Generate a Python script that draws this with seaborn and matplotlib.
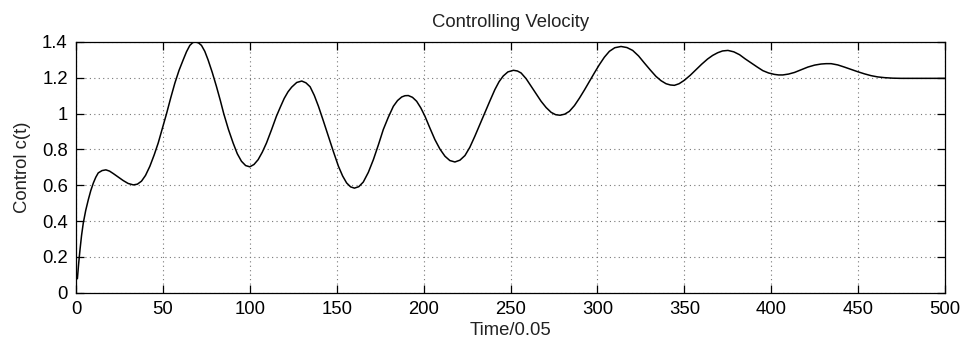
import matplotlib
matplotlib.use("Agg")
import matplotlib.pyplot as plt
import seaborn as sns
import pandas as pd

# Data
time_steps = [0.8, 1.5, 2.3, 3.2, 4.2, 5.6, 7.1, 8.5, 10, 11.4, 12.8, 15, 17.2, 19.3, 21.5,
              24.3, 27.2, 30, 33, 35.3, 37.7, 40, 42.5, 45, 47.3, 49.7, 52.1, 54.5, 56.9,
              59.3, 61.7, 63.6, 65.5, 67.2, 68.8, 70.5, 72.2, 74.1, 76, 78.4, 80.8, 83, 85,
              87.7, 90.4, 92.8, 95.2, 97.6, 100, 102.4, 104.8, 107.2, 109.6, 112.5, 115.3,
              117.5, 119.8, 122, 124.1, 127, 129.9, 132.3, 134.7, 137.1, 139.5, 142.3, 145.2,
              148.1, 151, 153.4, 155.7, 158, 160.2, 162.7, 165.3, 168.2, 171.1, 174, 176.8,
              179.7, 182.6, 185, 187.4, 189.3, 191.2, 193.6, 196, 198.4, 200.8, 203.6, 206.5,
              209.4, 212.3, 215.1, 218, 220.9, 223.8, 226.6, 229.5, 232.4, 235.2, 238.1, 241,
              243.4, 245.8, 248.5, 251.7, 254, 256.1, 259, 261.9, 264.8, 267.6, 270.5, 273.4,
              276, 278.5, 281.2, 283.9, 286.8, 289.7, 292.6, 295.4, 298.3, 301.1, 304, 306.9,
              310, 313.6, 317, 320.3, 323.7, 327, 330.4, 333.7, 336.6, 339.5, 342, 344.3, 347,
              350, 353.4, 356.7, 360, 363.4, 366.3, 369.2, 372, 375.1, 378.5, 381.8, 385,
              388.5, 392, 395.2, 398.5, 401.9, 404.3, 406.7, 410, 413.4, 417.3, 421.1, 425,
              428.7, 431.6, 434.5, 438.3, 442.1, 446, 449.8, 453.7, 457.5, 461.3, 465.1, 470,
              474.7, 486.2, 500]
control = [0.078, 0.16, 0.24, 0.32, 0.39, 0.46, 0.52, 0.57, 0.613, 0.645, 0.669, 0.682, 0.686,
           0.679, 0.665, 0.646, 0.626, 0.610, 0.602, 0.606, 0.623, 0.655, 0.706, 0.770, 0.836,
           0.918, 1.0, 1.088, 1.171, 1.242, 1.301, 1.346, 1.381, 1.397, 1.40, 1.395, 1.381,
           1.348, 1.30, 1.230, 1.152, 1.075, 1.0, 0.912, 0.836, 0.776, 0.734, 0.710, 0.703,
           0.716, 0.743, 0.785, 0.836, 0.910, 0.985, 1.035, 1.085, 1.122, 1.148, 1.174, 1.182,
           1.172, 1.150, 1.102, 1.041, 0.960, 0.874, 0.788, 0.706, 0.652, 0.613, 0.591, 0.584,
           0.592, 0.618, 0.672, 0.743, 0.826, 0.911, 0.980, 1.041, 1.073, 1.093, 1.100, 1.101,
           1.091, 1.069, 1.032, 0.985, 0.920, 0.855, 0.802, 0.762, 0.738, 0.730, 0.740, 0.766,
           0.812, 0.874, 0.940, 1.004, 1.070, 1.134, 1.178, 1.210, 1.233, 1.242, 1.238, 1.227,
           1.195, 1.152, 1.110, 1.069, 1.034, 1.007, 0.994, 0.991, 0.997, 1.013, 1.045, 1.087,
           1.133, 1.180, 1.228, 1.273, 1.315, 1.348, 1.368, 1.375, 1.369, 1.353, 1.322, 1.283,
           1.244, 1.208, 1.184, 1.167, 1.160, 1.158, 1.167, 1.186, 1.214, 1.245, 1.276, 1.305,
           1.325, 1.340, 1.350, 1.353, 1.345, 1.329, 1.306, 1.283, 1.260, 1.240, 1.227, 1.219,
           1.216, 1.216, 1.221, 1.230, 1.245, 1.260, 1.271, 1.277, 1.279, 1.279, 1.272, 1.260,
           1.247, 1.234, 1.222, 1.212, 1.205, 1.201, 1.198, 1.197, 1.197, 1.197]

x_ticks = [0, 50, 100, 150, 200, 250, 300, 350, 400, 450, 500]
y_ticks = [0, 0.2, 0.4, 0.6, 0.8, 1.0, 1.2, 1.4]
y_tick_labels = ["0", "0.2", "0.4", "0.6", "0.8", "1", "1.2", "1.4"]

df = pd.DataFrame({"t": time_steps, "c": control})

sns.set_style("ticks")
plt.rcParams["font.family"] = ["Liberation Sans", "DejaVu Sans"]

FS = 13.3

fig = plt.figure(figsize=(9.6, 3.42), dpi=100)
ax = fig.add_axes([76 / 960, 1 - 292.7 / 342, (945 - 76) / 960, (292.7 - 42) / 342])

sns.lineplot(data=df, x="t", y="c", ax=ax, color="black", linewidth=1.1)

ax.set_xlim(0, 500)
ax.set_ylim(0, 1.4)
ax.set_xticks(x_ticks)
ax.set_xticklabels([str(v) for v in x_ticks])
ax.set_yticks(y_ticks)
ax.set_yticklabels(y_tick_labels)

ax.grid(True, linestyle=(0, (1, 3)), color="#777777", linewidth=0.8)
for s in ax.spines.values():
    s.set_visible(True)
    s.set_color("black")
    s.set_linewidth(0.9)

ax.tick_params(direction="in", length=6, width=0.9, top=True, right=True,
               labelsize=FS, colors="black", pad=6)

ax.set_title("Controlling Velocity", fontsize=FS, pad=11, color="#222222")
ax.set_xlabel("Time/0.05", fontsize=FS, labelpad=3, color="#222222")
ax.set_ylabel("Control c(t)", fontsize=FS, labelpad=8, color="#222222")

fig.savefig("out.png", dpi=100)
